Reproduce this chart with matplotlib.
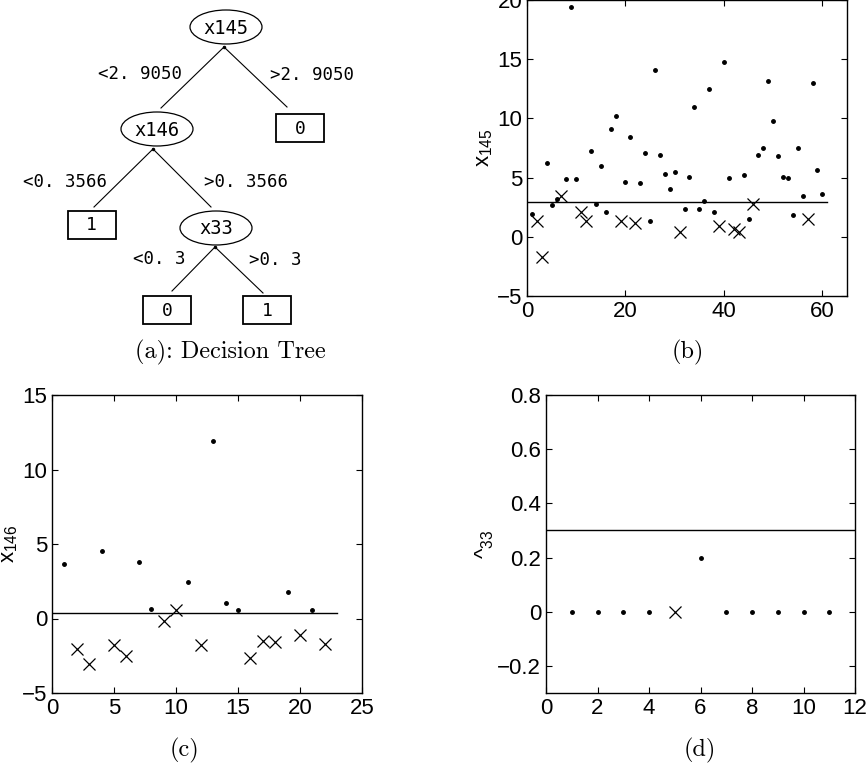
import matplotlib
matplotlib.use('Agg')
import matplotlib.pyplot as plt
from matplotlib.patches import Ellipse, Rectangle
from matplotlib.ticker import FuncFormatter

plt.rcParams['font.family'] = 'Liberation Sans'
plt.rcParams['mathtext.fontset'] = 'custom'
plt.rcParams['mathtext.rm'] = 'Liberation Sans'
plt.rcParams['axes.unicode_minus'] = True

# ---- data ----
# panel (b): feature x145 over 60 samples, cls 1 = dot, 0 = cross
b_x = list(range(1, 61))
b_y = [1.95, 1.3, -1.7, 6.2, 2.68, 3.19, 3.45, 4.86, 19.37, 4.9,
       2.06, 1.36, 7.28, 2.74, 5.99, 2.06, 9.1, 10.2, 1.33, 4.63,
       8.4, 1.19, 4.55, 7.1, 1.36, 14.05, 6.95, 5.31, 4.07, 5.5,
       0.42, 2.32, 5.06, 10.96, 2.32, 2.99, 12.5, 2.06, 0.93, 14.78,
       4.94, 0.7, 0.37, 5.25, 1.53, 2.77, 6.9, 7.5, 13.13, 9.8,
       6.8, 5.03, 4.94, 1.81, 7.48, 3.42, 1.47, 12.97, 5.65, 3.64]
b_cls = [1, 0, 0, 1, 1, 1, 0, 1, 1, 1,
         0, 0, 1, 1, 1, 1, 1, 1, 0, 1,
         1, 0, 1, 1, 1, 1, 1, 1, 1, 1,
         0, 1, 1, 1, 1, 1, 1, 1, 0, 1,
         1, 0, 0, 1, 1, 0, 1, 1, 1, 1,
         1, 1, 1, 1, 1, 1, 0, 1, 1, 1]
b_thr = 2.905

# panel (c): feature x146 over 22 samples
c_x = list(range(1, 23))
c_y = [3.65, -2.06, -3.05, 4.5, -1.79, -2.5, 3.8, 0.63, -0.2, 0.6, 2.46,
       -1.75, 11.9, 1.07, 0.56, -2.64, -1.48, -1.61, 1.79, -1.1, 0.6, -1.7]
c_cls = [1, 0, 0, 1, 0, 0, 1, 1, 0, 0, 1,
         0, 1, 1, 1, 0, 0, 0, 1, 0, 1, 0]
c_thr = 0.3566

# panel (d): feature x33 over 11 samples
d_x = list(range(1, 12))
d_y = [0, 0, 0, 0, 0, 0.2, 0, 0, 0, 0, 0]
d_cls = [1, 1, 1, 1, 0, 1, 1, 1, 1, 1, 1]
d_thr = 0.3

# decision tree (a)
tree_nodes = ['x145', 'x146', 'x33']
tree_splits = [('<2. 9050', '>2. 9050'), ('<0. 3566', '>0. 3566'), ('<0. 3', '>0. 3')]
tree_leaves = ['0', '1', '0', '1']

W, H = 866, 772
fig = plt.figure(figsize=(W / 100, H / 100), dpi=100)


def px_axes(l, t, r, b):
    return fig.add_axes([l / W, 1 - b / H, (r - l) / W, (b - t) / H])


def scatter_panel(ax, xs, ys, cls, thr, xline):
    dx = [x for x, c in zip(xs, cls) if c == 1]
    dy = [y for y, c in zip(ys, cls) if c == 1]
    cx = [x for x, c in zip(xs, cls) if c == 0]
    cy = [y for y, c in zip(ys, cls) if c == 0]
    ax.plot(dx, dy, 'k.', ms=5, ls='none')
    ax.plot(cx, cy, 'kx', ms=8.5, mew=0.9, ls='none')
    ax.plot([0, xline], [thr, thr], 'k-', lw=1.0)
    ax.tick_params(direction='in', top=True, right=True, length=4, labelsize=16, width=0.8)
    for s in ax.spines.values():
        s.set_linewidth(1.0)


fmt = FuncFormatter(lambda v, p: ('%g' % round(v, 6)).replace('-', '\u2212'))

# (b)
axb = px_axes(527, 0, 847, 296)
scatter_panel(axb, b_x, b_y, b_cls, b_thr, 61)
axb.set_xlim(0, 65)
axb.set_ylim(-5, 20)
axb.set_xticks([0, 20, 40, 60])
axb.set_yticks([-5, 0, 5, 10, 15, 20])
axb.yaxis.set_major_formatter(fmt)
axb.set_ylabel(r'x$_{145}$', fontsize=16, labelpad=1)

# (c)
axc = px_axes(52, 395, 362, 693)
scatter_panel(axc, c_x, c_y, c_cls, c_thr, 23)
axc.set_xlim(0, 25)
axc.set_ylim(-5, 15)
axc.set_xticks([0, 5, 10, 15, 20, 25])
axc.set_yticks([-5, 0, 5, 10, 15])
axc.yaxis.set_major_formatter(fmt)
axc.set_ylabel(r'x$_{146}$', fontsize=16, labelpad=1)

# (d)
axd = px_axes(546, 395, 855, 693)
scatter_panel(axd, d_x, d_y, d_cls, d_thr, 12)
axd.set_xlim(0, 12)
axd.set_ylim(-0.3, 0.8)
axd.set_xticks([0, 2, 4, 6, 8, 10, 12])
axd.set_yticks([-0.2, 0, 0.2, 0.4, 0.6, 0.8])
axd.yaxis.set_major_formatter(fmt)
axd.set_ylabel(r'^$_{33}$', fontsize=16, labelpad=1)

# (a) tree, drawn in pixel coordinates
axt = fig.add_axes([0, 0, 1, 1], zorder=-1)
axt.set_xlim(0, W)
axt.set_ylim(H, 0)
axt.set_axis_off()

mono = 'DejaVu Sans Mono'
ell = [(226, 27), (157, 129), (216, 228)]
for (ex, ey), name in zip(ell, tree_nodes):
    axt.add_patch(Ellipse((ex, ey), 72, 34, fill=False, lw=0.9, ec='k'))
    axt.text(ex, ey + 1, name, ha='center', va='center', fontsize=13.5, family=mono)

boxes = [(300, 127.5), (91.5, 224.5), (167, 310), (267, 310)]
for (bx, by), lab in zip(boxes, tree_leaves):
    axt.add_patch(Rectangle((bx - 24, by - 14), 48, 28, fill=False, lw=1.3, ec='k'))
    axt.text(bx, by + 1, lab, ha='center', va='center', fontsize=13, family=mono)

edges = [((224, 47), (161, 108)), ((224, 47), (287, 107)),
         ((153, 149), (94, 207)), ((153, 149), (211, 207)),
         ((215, 247), (172, 291)), ((215, 247), (263, 293))]
for (x1, y1), (x2, y2) in edges:
    axt.plot([x1, x2], [y1, y2], 'k-', lw=0.8)
for (x1, y1) in [(224, 47), (153, 149), (215, 247)]:
    axt.plot([x1], [y1], 'k.', ms=3)

split_pos = [((140, 74), (312, 75)), ((65, 182), (246, 182)), ((159, 259), (275, 260))]
for (lt, rt), (lp, rp) in zip(tree_splits, split_pos):
    axt.text(lp[0], lp[1], lt, ha='center', va='center', fontsize=12.5, family=mono)
    axt.text(rp[0], rp[1], rt, ha='center', va='center', fontsize=12.5, family=mono)

# captions
cap = dict(ha='center', va='center', fontsize=17.5, family='cmr10')
axt.text(230, 352, '(a): Decision Tree', **cap)
axt.text(688, 352, '(b)', **cap)
axt.text(185, 750, '(c)', **cap)
axt.text(700, 750, '(d)', **cap)

fig.savefig('out.png', dpi=100)
